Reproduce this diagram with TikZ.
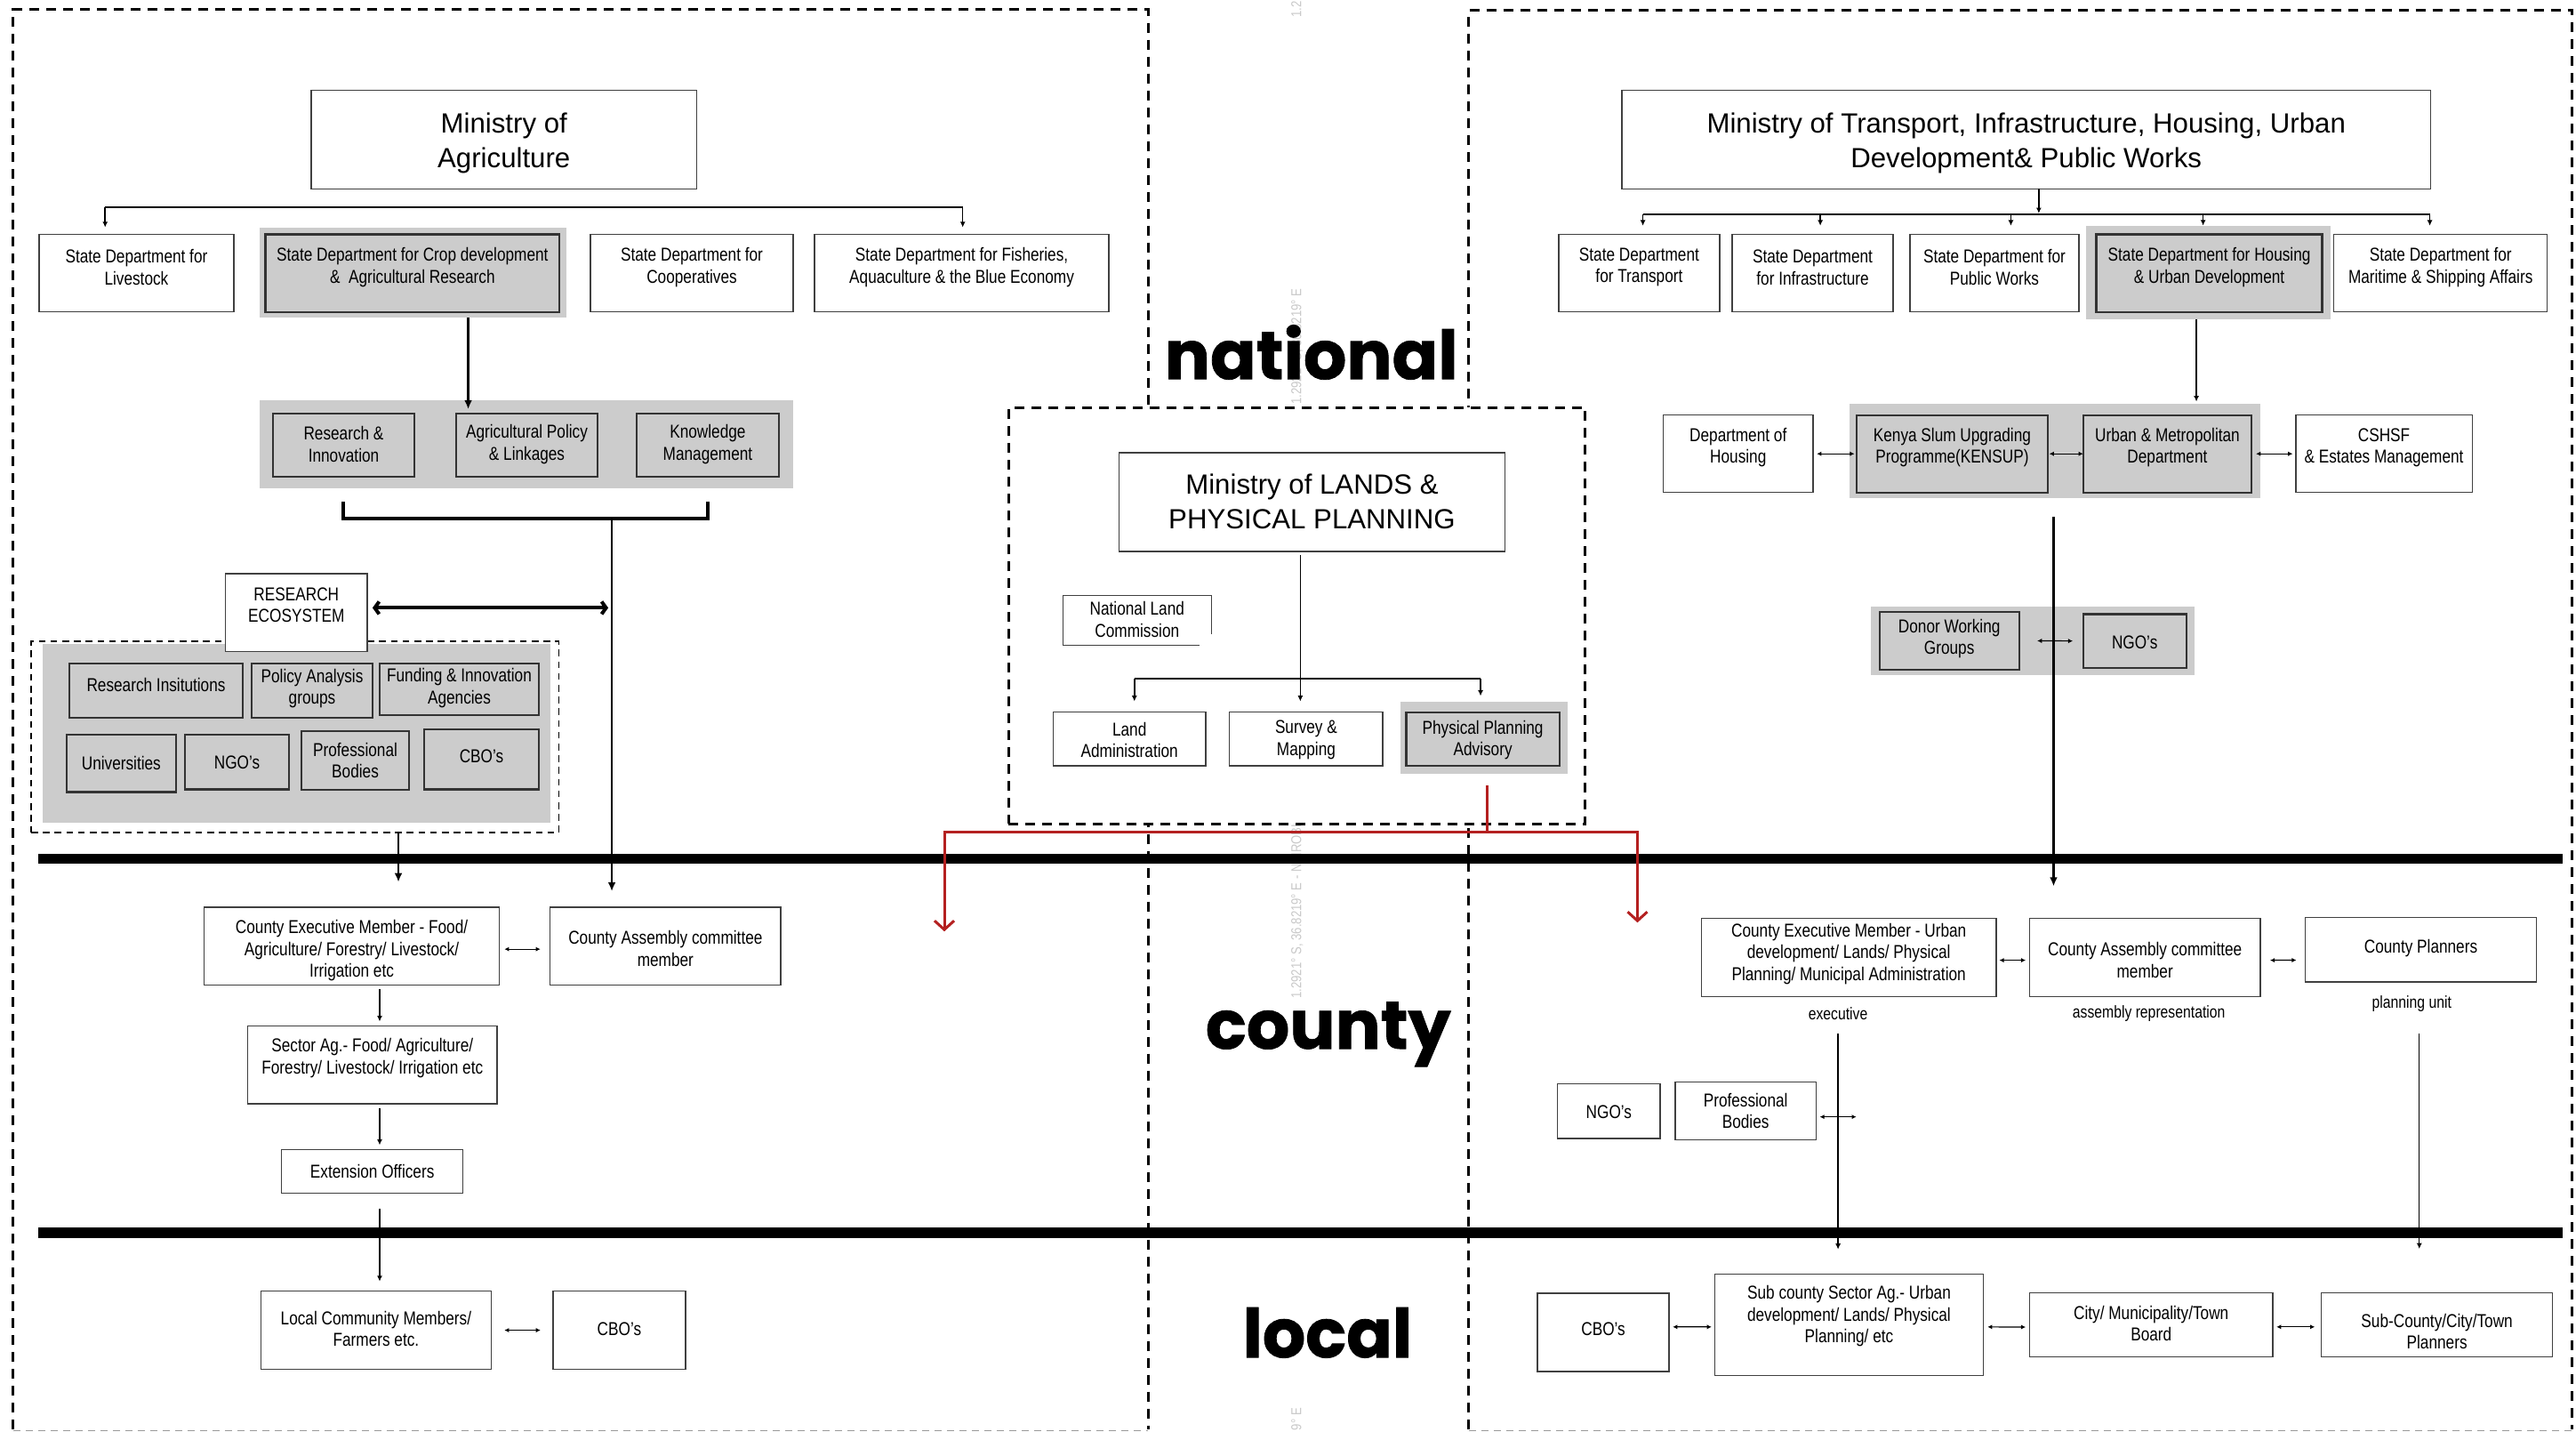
\documentclass[tikz,border=0pt]{standalone}
\usepackage{fontspec}
\setmainfont{Liberation Sans}
\newfontfamily\narrowfont[FakeStretch=0.82]{Liberation Sans}
\newfontfamily\levelfont[BoldFeatures={FakeBold=1}]{Poppins}
\usetikzlibrary{arrows.meta,calc}

\definecolor{panelgray}{RGB}{204,204,204}
\definecolor{linkred}{RGB}{180,32,32}
\definecolor{markgray}{RGB}{200,200,200}

\newcommand\boxfont{\narrowfont\fontsize{10.5}{12.2}\selectfont}
\newcommand\titlefont{\fontsize{15.6}{19.5}\selectfont}
\newcommand\notefont{\narrowfont\fontsize{9.6}{11}\selectfont}
\newcommand\levelsize{\levelfont\bfseries\fontsize{38}{40}\selectfont}
\newcommand\markfont{\narrowfont\fontsize{8}{9}\selectfont}

\tikzset{
  orgbox/plain/.style={draw=black!75, line width=0.7pt, fill=white, inner sep=0pt, outer sep=0pt},
  orgbox/gray/.style={draw=black!80, line width=1.1pt, fill=panelgray, inner sep=0pt, outer sep=0pt},
  orgbox/title/.style={draw=black!75, line width=0.7pt, fill=white, inner sep=0pt, outer sep=0pt},
  panelbg/.style={fill=panelgray, inner sep=0pt, outer sep=0pt},
  boxtext/.style={font=\boxfont, align=center, inner sep=0pt, text=black},
  titletext/.style={font=\titlefont, align=center, inner sep=0pt, text=black},
  notetext/.style={font=\notefont, inner sep=0pt, text=black},
  levellabel/.style={font=\levelsize, inner sep=0pt, anchor=base},
  geomark/.style={font=\markfont, text=markgray, rotate=90, anchor=base west, inner sep=0pt},
  lnk/.style={line width=0.8pt, draw=black},
  lnkthin/.style={line width=0.6pt, draw=black},
  lnkmid/.style={line width=1.2pt, draw=black},
  lnkbold/.style={line width=1.9pt, draw=black, line join=miter},
  headS/.style={-{Latex[length=3.2pt,width=3pt]}},
  headM/.style={-{Latex[length=5pt,width=4.4pt]}},
  dblhead/.style={{Latex[length=2.6pt,width=2.6pt]}-{Latex[length=2.6pt,width=2.6pt]}},
  ecohead/.style={line width=2pt, {Straight Barb[length=2.5pt,width=7pt]}-{Straight Barb[length=2.5pt,width=7pt]}},
  redlnk/.style={draw=linkred, line width=1.5pt, line join=miter},
  redheads/.style={{Straight Barb[length=5pt,width=11pt]}-{Straight Barb[length=5pt,width=11pt]}},
  framedash/.style={line width=1.5pt, dash pattern=on 5.5pt off 4pt},
  groupdash/.style={line width=0.9pt, dash pattern=on 3.8pt off 2.8pt},
}

% box: [style]{name}{x1}{y1}{x2}{y2}{text centre y}{text}
\newcommand\orgbox[8][plain]{%
  \node[orgbox/#1, minimum width={(#5-(#3))*0.9238pt}, minimum height={(#6-(#4))*0.9238pt}]
    (#2) at ({(#3+#5)/2},{(#4+#6)/2}) {};
  \node[boxtext] (#2-t) at ({(#3+#5)/2},#7) {#8};}
% title box: {name}{x1}{y1}{x2}{y2}{text centre y}{text}
\newcommand\titlebox[7]{%
  \node[orgbox/title, minimum width={(#4-(#2))*0.9238pt}, minimum height={(#5-(#3))*0.9238pt}]
    (#1) at ({(#2+#4)/2},{(#3+#5)/2}) {};
  \node[titletext] (#1-t) at ({(#2+#4)/2},#6) {#7};}
% grey backing panel: {name}{x1}{y1}{x2}{y2}
\newcommand\backpanel[5]{%
  \node[panelbg, minimum width={(#4-(#2))*0.9238pt}, minimum height={(#5-(#3))*0.9238pt}]
    (#1) at ({(#2+#4)/2},{(#3+#5)/2}) {};}

\begin{document}
\begin{tikzpicture}[x=0.9238pt, y=-0.9238pt, line cap=butt]
\useasboundingbox (0,0) rectangle (1568,871.4);

% ---------- faint coordinate stamps ----------
\node[geomark] (geo-a) at (792,10.8) {1.2};
\node[geomark] (geo-b) at (792,246.3) {1.2921° S, 36.8219° E};
\node[geomark] (geo-c) at (792,607.8) {1.2921° S, 36.8219° E - NAIROBI};
\node[geomark] (geo-d) at (792,870.6) {9° E};

% ---------- sector frames ----------
\draw[framedash] (8,869.8) -- (8,5.8) -- (699,5.8) -- (699,869.8);
\draw[framedash] (894,869.8) -- (894,6.4) -- (1565.8,6.4) -- (1565.8,869.8);
\draw[black!40, line width=0.5pt, dash pattern=on 4pt off 3pt] (8,870.4) -- (699,870.4);
\draw[black!40, line width=0.5pt, dash pattern=on 4pt off 3pt] (894,870.4) -- (1565.8,870.4);

% ---------- level labels ----------
\node[levellabel] (lvl-national) at (798.2,230.7) {national};
\node[levellabel] (lvl-county) at (808.5,638.2) {county};
\node[levellabel] (lvl-local) at (808,826) {local};

% ================= AGRICULTURE =================
\titlebox{moa}{189.4}{55}{424.1}{115}{87}{Ministry of\\Agriculture}

\backpanel{cropbg}{158}{138.8}{344.8}{193.1}
\orgbox{livestock}{23.8}{142.6}{142.3}{189.8}{162.6}{State Department for\\Livestock}
\orgbox[gray]{crop}{161.6}{142.6}{340.5}{189.8}{162.6}{State Department for Crop development\\\&\ \ Agricultural Research}
\orgbox{coop}{359.4}{142.6}{482.8}{189.8}{162.6}{State Department for\\Cooperatives}
\orgbox{fish}{495.8}{142.6}{675}{189.8}{162.6}{State Department for Fisheries,\\Aquaculture \& the Blue Economy}

\coordinate (moa-l) at (64,126);
\coordinate (moa-r) at (586,126);
\draw[lnk] (moa-l) -- (moa-r);
\draw[lnk, headS, shorten >=3.9pt] (moa-l) -- (moa-l |- livestock.north);
\draw[lnk, headS, shorten >=3.9pt] (moa-r) -- (moa-r |- fish.north);

\backpanel{agrbg}{158}{243.5}{482.8}{297.2}
\orgbox[gray]{resinn}{166.2}{251.5}{252.2}{290}{270.4}{Research \&\\Innovation}
\orgbox[gray]{agpol}{277.7}{251.5}{363.7}{290}{270.4}{Agricultural Policy\\\& Linkages}
\orgbox[gray]{knowm}{387.5}{251.5}{474.1}{290}{270.4}{Knowledge\\Management}

\coordinate (crop-out) at (285,193.1);
\draw[lnkmid, headM, shorten >=2.3pt] (crop-out) -- (crop-out |- agpol.north);

% bracket gathering the three units
\coordinate (brk-l) at (208.9,305.3);
\coordinate (brk-r) at (430.8,305.3);
\coordinate (brk-m) at (372.4,315.7);
\draw[lnkbold] (brk-l) |- (brk-m) -| (brk-r);

% research ecosystem group
\node[draw, groupdash, inner sep=0pt, minimum width={321.3*0.9238pt}, minimum height={116.4*0.9238pt}] (resgrp) at (179.55,448.6) {};
\backpanel{resbg}{26}{391.8}{334.8}{500.7}
\orgbox[gray]{resinst}{42.2}{403.6}{147.8}{436.6}{416.6}{Research Insitutions}
\orgbox[gray]{polan}{153.2}{403.6}{226.8}{436.6}{419}{Policy Analysis\\groups}
\orgbox[gray]{fund}{231.1}{403.6}{328}{435}{418.6}{Funding \& Innovation\\Agencies}
\orgbox[gray]{univ}{40.4}{446.9}{107.2}{482}{464.6}{Universities}
\orgbox[gray]{ngo1}{112.6}{446.9}{175.9}{480.3}{464.2}{NGO’s}
\orgbox[gray]{prof1}{183.5}{445}{249}{480.8}{462.7}{Professional\\Bodies}
\orgbox[gray]{cbo1}{258.2}{443.8}{328}{480.3}{460}{CBO’s}
\orgbox{resec}{137.3}{349}{223.5}{396.4}{368.2}{RESEARCH\\ECOSYSTEM}

% county level (agriculture)
\orgbox{cem1}{124.3}{552}{303.9}{599.5}{578.4}{County Executive Member - Food/\\Agriculture/ Forestry/ Livestock/\\Irrigation etc}
\orgbox{cam1}{334.8}{552}{475.3}{599.5}{577.2}{County Assembly committee\\member}
\orgbox{sec1}{150.8}{624.2}{302.5}{671.6}{643.9}{Sector Ag.- Food/ Agriculture/\\Forestry/ Livestock/ Irrigation etc}
\orgbox{ext1}{171.4}{699.4}{281.8}{726.2}{712.6}{Extension Officers}
\orgbox{loc1}{158.9}{785.5}{298.9}{833.4}{808.7}{Local Community Members/\\Farmers etc.}
\orgbox{cbo2}{336.6}{785.5}{417.3}{833.4}{809}{CBO’s}

\draw[lnkmid, headM, shorten >=8.9pt] (brk-m) -- (brk-m |- cam1.north);
\coordinate (eco-a) at ([yshift=2.6pt]resec.east);
\draw[ecohead, shorten <=3pt, shorten >=2pt] (eco-a) -- (eco-a -| brk-m);
\coordinate (grp-out) at (242.5,506.8);
\draw[lnkmid, headM, shorten >=14.1pt] (grp-out) -- (grp-out |- cem1.north);

\coordinate (chain-x) at (231.1,600);
\draw[lnkthin, dblhead] ([xshift=2.9pt,yshift=-1.7pt]cem1.east) -- ([xshift=-5.4pt,yshift=-1.7pt]cam1.west);
\draw[lnkthin, headS, shorten <=2.1pt, shorten >=2.4pt] (cem1.south -| chain-x) -- (chain-x |- sec1.north);
\draw[lnkthin, headS, shorten <=2.6pt, shorten >=2.4pt] (sec1.south -| chain-x) -- (chain-x |- ext1.north);
\draw[lnkthin, headS, shorten <=8.4pt, shorten >=5.3pt] (ext1.south -| chain-x) -- (chain-x |- loc1.north);
\draw[lnkthin, dblhead] ([xshift=7.5pt]loc1.east) -- ([xshift=-7pt]cbo2.west);

% ================= LANDS =================
\node[draw, framedash, fill=white, inner sep=0pt, minimum width={351*0.9238pt}, minimum height={253.4*0.9238pt}] (lands) at (789.5,374.7) {};
\titlebox{mlp}{681}{275.5}{916.2}{335.6}{305.1}{Ministry of LANDS \&\\PHYSICAL PLANNING}

\node[inner sep=0pt, outer sep=0pt, minimum width={90.3*0.9238pt}, minimum height={30.2*0.9238pt}] (nlc) at (692.15,377.5) {};
\draw[black!75, line width=0.7pt] ([xshift=-6.7pt]nlc.south east) -- (nlc.south west) -- (nlc.north west) -- (nlc.north east) -- ([yshift=6.2pt]nlc.south east);
\node[boxtext] (nlc-t) at (692.15,377) {National Land\\Commission};

\orgbox{landadm}{641}{433.4}{734}{466.1}{450.2}{Land\\Administration}
\orgbox{survey}{748.4}{433.4}{841.7}{466.1}{450.2}{Survey \&\\Mapping}
\backpanel{ppabg}{852.5}{427.2}{954.2}{470.9}
\orgbox[gray]{ppa}{856}{433.4}{949.2}{466.1}{450.2}{Physical Planning\\Advisory}

\coordinate (mlp-x) at (791.5,340);
\draw[lnk, headS, shorten <=2.2pt, shorten >=6.1pt] (mlp.south -| mlp-x) -- (mlp-x |- survey.north);
\coordinate (lb-l) at (690.5,413);
\coordinate (lb-r) at (901.2,413);
\draw[lnk] (lb-l) -- (lb-r);
\draw[lnk, headS, shorten >=6.1pt] (lb-l) -- (lb-l |- landadm.north);
\draw[lnk, headS, shorten >=3.4pt] (lb-r) -- (lb-r |- ppabg.north);

% ================= TRANSPORT / HOUSING =================
\titlebox{mot}{987.3}{55}{1479.4}{115}{87}{Ministry of Transport, Infrastructure, Housing, Urban\\Development\& Public Works}

\backpanel{hudbg}{1270}{137.4}{1418.8}{194.3}
\orgbox{transp}{948.8}{142.6}{1046.7}{189.8}{162.7}{State Department\\for Transport}
\orgbox{infra}{1054.4}{142.6}{1152.3}{189.8}{162.7}{State Department\\for Infrastructure}
\orgbox{pubw}{1162.6}{142.6}{1265.4}{189.8}{162.7}{State Department for\\Public Works}
\orgbox[gray]{hud}{1276}{142.6}{1413.5}{189.8}{162.7}{State Department for Housing\\\& Urban Development}
\orgbox{marit}{1420.6}{142.6}{1550.5}{189.8}{162.7}{State Department for\\Maritime \& Shipping Affairs}

\coordinate (mot-j) at (1241,130.3);
\coordinate (mot-a) at (1000,130.3);
\coordinate (mot-b) at (1108,130.3);
\coordinate (mot-c) at (1224,130.3);
\coordinate (mot-d) at (1341,130.3);
\coordinate (mot-e) at (1479,130.3);
\draw[lnk, headS, shorten >=0.4pt] (mot.south -| mot-j) -- (mot-j);
\draw[lnk] (mot-a) -- (mot-e);
\draw[lnk, headS, shorten >=4.8pt] (mot-a) -- (mot-a |- transp.north);
\draw[lnk, headS, shorten >=4.8pt] (mot-b) -- (mot-b |- infra.north);
\draw[lnk, headS, shorten >=4.8pt] (mot-c) -- (mot-c |- pubw.north);
\draw[lnk, headS, shorten >=0.1pt] (mot-d) -- (mot-d |- hudbg.north);
\draw[lnk, headS, shorten >=4.8pt] (mot-e) -- (mot-e |- marit.north);

\backpanel{kenbg}{1125.6}{245.8}{1375.8}{303.3}
\orgbox{dhous}{1012.4}{252.6}{1103.6}{299.7}{272.4}{Department of\\Housing}
\orgbox[gray]{kensup}{1130}{252.6}{1246.5}{299.7}{272.4}{Kenya Slum Upgrading\\Programme(KENSUP)}
\orgbox[gray]{urban}{1268}{252.6}{1370.5}{299.7}{272.4}{Urban \& Metropolitan\\Department}
\orgbox{cshsf}{1397.4}{252.6}{1504.8}{299.7}{272.4}{CSHSF\\\& Estates Management}

\coordinate (hud-x) at (1336.9,200);
\draw[lnkthin, headS, shorten >=7.6pt] (hudbg.south -| hud-x) -- (hud-x |- urban.north);
\draw[lnkthin, dblhead] ([xshift=2.1pt]dhous.east) -- ([xshift=-1.1pt]kensup.west);
\draw[lnkthin, dblhead] ([xshift=0.8pt]kensup.east) -- (urban.west);
\draw[lnkthin, dblhead] ([xshift=2.5pt]urban.east) -- ([xshift=-1.7pt]cshsf.west);

\backpanel{donbg}{1139}{369}{1336}{410.7}
\orgbox[gray]{donor}{1144}{372.4}{1229}{407.5}{388.6}{Donor Working\\Groups}
\orgbox[gray]{ngo2}{1268}{373.7}{1330.7}{406.4}{390.7}{NGO’s}
\draw[lnkthin, dblhead] ([xshift=10.2pt]donor.east) -- ([xshift=-5.8pt]ngo2.west);

% county level (housing)
\orgbox{cem2}{1035.7}{558.8}{1215}{606.4}{580.4}{County Executive Member - Urban\\development/ Lands/ Physical\\Planning/ Municipal Administration}
\orgbox{cam2}{1235.3}{558.8}{1375.9}{606.4}{584.2}{County Assembly committee\\member}
\orgbox{cpl}{1403.3}{558.2}{1543.8}{597.6}{577}{County Planners}
\node[notetext] (lab-exec) at (1118.8,616.6) {executive};
\node[notetext] (lab-asm) at (1308,616.6) {assembly representation};
\node[notetext] (lab-plan) at (1468,610.9) {planning unit};

\coordinate (hud-down) at (1250,314.3);
\draw[lnkmid, headM, shorten <=10.2pt, shorten >=18pt] (kenbg.south -| hud-down) -- (hud-down |- cam2.north);

\draw[lnkthin, dblhead] ([xshift=1.8pt,yshift=-1.6pt]cem2.east) -- ([xshift=-2.1pt,yshift=-1.6pt]cam2.west);
\draw[lnkthin, dblhead] ([xshift=5.4pt,yshift=-1.6pt]cam2.east) -- ([xshift=-5.1pt,yshift=-5.9pt]cpl.west);

\orgbox{ngo3}{948}{659.5}{1010.6}{692.8}{676.6}{NGO’s}
\orgbox{prof3}{1019.6}{658.4}{1105.5}{693.7}{676}{Professional\\Bodies}

\orgbox{cbo3}{935.8}{787}{1016}{834.6}{809}{CBO’s}
\orgbox{subsec}{1043.8}{775.3}{1207.2}{837}{800.9}{Sub county Sector Ag.- Urban\\development/ Lands/ Physical\\Planning/ etc}
\orgbox{cityb}{1235.3}{786.7}{1383.5}{825.8}{805.5}{City/ Municipality/Town\\Board}
\orgbox{subcpl}{1413}{786.7}{1553.7}{825.8}{810.2}{Sub-County/City/Town\\Planners}

\coordinate (exec-x) at (1118.8,629);
\coordinate (plan-x) at (1472.6,629);
\draw[lnkthin, headS, shorten >=13.9pt] (exec-x) -- (exec-x |- subsec.north);
\draw[lnkthin, headS, shorten >=24.7pt] (plan-x) -- (plan-x |- subcpl.north);
\draw[lnkthin, dblhead] ([xshift=2pt,yshift=-3.3pt]prof3.east) -- ++(22.3,0);

\draw[lnkthin, dblhead] ([xshift=2pt,yshift=3.1pt]cbo3.east) -- ([xshift=-1.8pt,yshift=-1.2pt]subsec.west);
\draw[lnkthin, dblhead] ([xshift=2.4pt,yshift=-1.2pt]subsec.east) -- ([xshift=-2.1pt,yshift=-1.2pt]cityb.west);
\draw[lnkthin, dblhead] ([xshift=2pt,yshift=-1.1pt]cityb.east) -- ([xshift=-3.7pt,yshift=-1.1pt]subcpl.west);

% ---------- level dividers ----------
\fill[black] (23.3,519.4) rectangle (1560,525.8);
\fill[black] (23.3,747) rectangle (1560,753.4);

% ---------- planning advisory link to both counties ----------
\coordinate (red-j) at (905.3,506.5);
\coordinate (red-l) at (574.8,506.5);
\coordinate (red-r) at (996.7,506.5);
\coordinate (red-lt) at (574.8,566.8);
\coordinate (red-rt) at (996.7,561.4);
\draw[redlnk, shorten <=6.3pt] (ppabg.south -| red-j) -- (red-j);
\draw[redlnk, redheads] (red-lt) -- (red-l) -- (red-r) -- (red-rt);
\end{tikzpicture}
\end{document}
